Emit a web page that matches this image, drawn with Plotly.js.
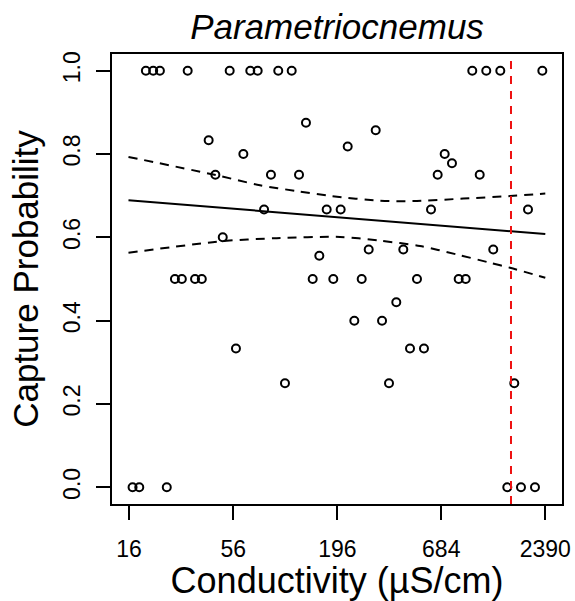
<!DOCTYPE html>
<html>
<head>
<meta charset="utf-8">
<script src="https://cdn.plot.ly/plotly-3.0.1.min.js"></script>
<style>html,body{margin:0;padding:0;background:#fff;}#chart{width:575px;height:601px;}</style>
</head>
<body>
<div id="chart"></div>
<script>
// Observed capture probabilities vs conductivity
const conductivity = [19.6, 21.4, 23.2, 32.4, 53.7, 68.8, 75.2, 96.3, 113.2, 993, 1175, 1391, 2306,
  134.4, 310.9, 41.7, 222, 63.3, 712.6, 778,
  45.2, 88.2, 123.6, 655, 1086,
  81.2, 172.4, 204, 604.6, 1941,
  49.4, 285.8, 433.2, 1278, 157.8,
  27.8, 30.2, 35.4, 38.4, 145.7, 186.7, 262.7, 510.8, 843.3, 917.7,
  398.2, 240.4, 335.5, 57.9, 469.6, 555.5,
  104.4, 364.8, 1646,
  16.7, 18.1, 25.2, 1513, 1784, 2111];
const capture = [1, 1, 1, 1, 1, 1, 1, 1, 1, 1, 1, 1, 1,
  0.875, 0.857, 0.833, 0.818, 0.8, 0.8, 0.778,
  0.75, 0.75, 0.75, 0.75, 0.75,
  0.667, 0.667, 0.667, 0.667, 0.667,
  0.6, 0.571, 0.571, 0.571, 0.556,
  0.5, 0.5, 0.5, 0.5, 0.5, 0.5, 0.5, 0.5, 0.5, 0.5,
  0.444, 0.4, 0.4, 0.333, 0.333, 0.333,
  0.25, 0.25, 0.25,
  0, 0, 0, 0, 0, 0];

// Fitted line and confidence band
const fitX = [15.9, 2390];
const fitY = [0.689, 0.608];
const upperX = [15.9, 45.9, 77.3, 120.2, 183.2, 327.3, 488.6, 891.5, 1563, 2390];
const upperY = [0.793, 0.749, 0.725, 0.711, 0.699, 0.688, 0.687, 0.693, 0.699, 0.705];
const lowerX = [15.9, 49.7, 94.5, 202.4, 327.3, 529.6, 823.4, 1229, 1563, 2390];
const lowerY = [0.563, 0.591, 0.598, 0.601, 0.592, 0.579, 0.559, 0.539, 0.527, 0.503];

const threshold = 1582;

const xTicks = [16, 56, 196, 684, 2390];
const xTickText = ['16', '56', '196', '684', '2390'];
const yTicks = [0, 0.2, 0.4, 0.6, 0.8, 1.0];
const yTickText = ['0.0', '0.2', '0.4', '0.6', '0.8', '1.0'];

const FONT = 'Liberation Sans, Arial, Helvetica, sans-serif';

const traces = [
  {x: conductivity, y: capture, type: 'scatter', mode: 'markers',
   marker: {symbol: 'circle-open', size: 8, color: '#000', line: {width: 2, color: '#000'}},
   showlegend: false, hoverinfo: 'skip'},
  {x: fitX, y: fitY, type: 'scatter', mode: 'lines',
   line: {color: '#000', width: 2}, showlegend: false, hoverinfo: 'skip'},
  {x: upperX, y: upperY, type: 'scatter', mode: 'lines',
   line: {color: '#000', width: 2, dash: '9px,7px', shape: 'spline', smoothing: 0.8}, showlegend: false, hoverinfo: 'skip'},
  {x: lowerX, y: lowerY, type: 'scatter', mode: 'lines',
   line: {color: '#000', width: 2, dash: '9px,7px', shape: 'spline', smoothing: 0.8}, showlegend: false, hoverinfo: 'skip'}
];

const layout = {
  width: 575, height: 601,
  margin: {l: 112, r: 13, t: 54, b: 97, pad: 0},
  paper_bgcolor: '#fff', plot_bgcolor: '#fff',
  font: {family: FONT, color: '#000'},
  title: {text: '<i>Parametriocnemus</i>', font: {family: FONT, size: 35, color: '#000'},
          x: 0.5, xref: 'paper', xanchor: 'center', y: 1 - 27/601, yref: 'container', yanchor: 'middle'},
  xaxis: {
    type: 'log', range: [1.1153, 3.4656],
    tickmode: 'array', tickvals: xTicks, ticktext: xTickText,
    ticks: 'outside', ticklen: 14, tickwidth: 2, tickcolor: '#000',
    tickfont: {family: FONT, size: 23, color: '#000'},
    ticklabelstandoff: 9,
    showline: true, linecolor: '#000', linewidth: 2, mirror: true,
    showgrid: false, zeroline: false,
    title: {text: 'Conductivity (µS/cm)', font: {family: FONT, size: 36, color: '#000'}, standoff: 6}
  },
  yaxis: {
    range: [-0.04, 1.04],
    tickmode: 'array', tickvals: yTicks, ticktext: yTickText,
    ticks: 'outside', ticklen: 14, tickwidth: 2, tickcolor: '#000',
    tickangle: -90,
    tickfont: {family: FONT, size: 23, color: '#000'},
    ticklabelstandoff: 7,
    showline: true, linecolor: '#000', linewidth: 2, mirror: true,
    showgrid: false, zeroline: false,
    title: {text: 'Capture Probability', font: {family: FONT, size: 35, color: '#000'}, standoff: 10}
  },
  shapes: [
    {type: 'line', xref: 'x', yref: 'paper', x0: threshold, x1: threshold, y0: 0, y1: 1,
     line: {color: '#ee1111', width: 2, dash: '8px,7px'}}
  ]
};

Plotly.newPlot('chart', traces, layout, {displayModeBar: false, staticPlot: true});
</script>
</body>
</html>
